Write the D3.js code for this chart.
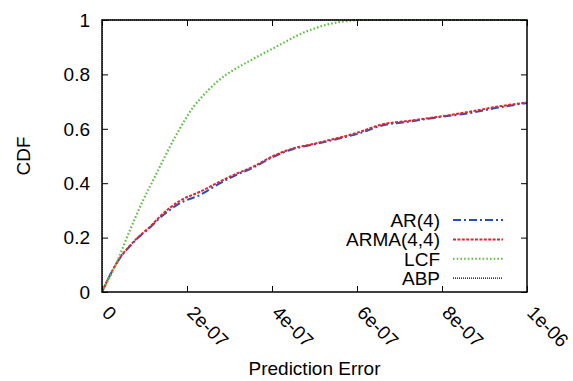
<!DOCTYPE html>
<html><head><meta charset="utf-8">
<script src="https://cdn.jsdelivr.net/npm/d3@7"></script>
<style>body{margin:0;background:#fff;}svg{display:block;font-family:"Liberation Sans",Arial,sans-serif;}</style>
</head><body><svg id="c" width="573" height="381"></svg>
<script>
// x values of the series are in units of 1e-7
const xTicks = [0, 2e-7, 4e-7, 6e-7, 8e-7, 1e-6];
const xTickLabels = ["0", "2e-07", "4e-07", "6e-07", "8e-07", "1e-06"];
const yTicks = [0, 0.2, 0.4, 0.6, 0.8, 1];
const yTickLabels = ["0", "0.2", "0.4", "0.6", "0.8", "1"];
const seriesNames = ["AR(4)", "ARMA(4,4)", "LCF", "ABP"];

const lcfX = [0, 0.35, 0.66, 0.97, 1.2, 1.36, 1.52, 1.72, 1.84, 2.0, 2.15, 2.31, 2.5, 2.7, 2.93, 3.2, 3.48, 3.75, 4.03, 4.35, 4.66, 5.0, 5.29, 5.6, 5.84, 6.07, 7, 8, 9, 10];
const lcfY = [0, 0.11, 0.228, 0.338, 0.41, 0.46, 0.51, 0.57, 0.603, 0.645, 0.68, 0.71, 0.742, 0.772, 0.8, 0.826, 0.85, 0.873, 0.896, 0.923, 0.948, 0.969, 0.983, 0.993, 0.998, 1, 1, 1, 1, 1];

const armaX = [0, 0.2, 0.42, 0.66, 0.89, 1.13, 1.36, 1.6, 1.84, 2.31, 2.7, 3.09, 3.56, 4.03, 4.5, 5.0, 5.36, 5.7, 6.07, 6.54, 7.25, 7.95, 8.66, 9.29, 10];
const armaY = [0, 0.066, 0.126, 0.171, 0.207, 0.24, 0.277, 0.31, 0.336, 0.369, 0.40, 0.43, 0.461, 0.5, 0.528, 0.545, 0.559, 0.572, 0.589, 0.614, 0.63, 0.645, 0.663, 0.681, 0.697];

const arX = [0, 0.2, 0.42, 0.66, 0.89, 1.13, 1.36, 1.6, 1.84, 2.31, 2.7, 3.09, 3.56, 4.03, 4.5, 5.0, 5.36, 5.7, 6.07, 6.54, 7.25, 7.95, 8.66, 9.29, 10];
const arY = [0, 0.065, 0.124, 0.169, 0.205, 0.237, 0.272, 0.302, 0.327, 0.357, 0.393, 0.425, 0.458, 0.497, 0.526, 0.543, 0.556, 0.569, 0.584, 0.61, 0.627, 0.643, 0.658, 0.677, 0.695];

const abpX = [0, 0, 10];
const abpY = [0, 1, 1];

const svg = d3.select("#c");
const L = 102, R = 527, T = 20, B = 292;
const x = d3.scaleLinear().domain([0, 1e-6]).range([L, R]);
const y = d3.scaleLinear().domain([0, 1]).range([B, T]);
const fs = "19px";

svg.append("clipPath").attr("id", "pc").append("rect")
  .attr("x", L).attr("y", T - 2).attr("width", R - L).attr("height", B - T + 4);

// axes with inward ticks (mirrored)
const axB = svg.append("g").attr("transform", `translate(0,${B})`)
  .call(d3.axisBottom(x).tickValues(xTicks).tickSize(-6).tickFormat(""));
const axT = svg.append("g").attr("transform", `translate(0,${T})`)
  .call(d3.axisTop(x).tickValues(xTicks).tickSize(-6).tickFormat(""));
const axL = svg.append("g").attr("transform", `translate(${L},0)`)
  .call(d3.axisLeft(y).tickValues(yTicks).tickSize(-6).tickFormat(""));
const axR = svg.append("g").attr("transform", `translate(${R},0)`)
  .call(d3.axisRight(y).tickValues(yTicks).tickSize(-6).tickFormat(""));
[axB, axT, axL, axR].forEach(a => { a.select(".domain").remove(); a.selectAll("line").attr("stroke", "#000").attr("stroke-width", 1); });

// y tick labels
svg.append("g").selectAll("text").data(yTicks).join("text")
  .attr("x", L - 12).attr("y", d => y(d)).attr("dy", "0.36em")
  .attr("text-anchor", "end").attr("font-size", fs).attr("fill", "#000")
  .text((d, i) => yTickLabels[i]);

// x tick labels rotated
svg.append("g").selectAll("text").data(xTicks).join("text")
  .attr("transform", d => `translate(${x(d) - 1},314) rotate(45)`)
  .attr("text-anchor", "start").attr("font-size", fs).attr("fill", "#000")
  .text((d, i) => xTickLabels[i]);

// axis titles
svg.append("text").attr("x", (L + R) / 2).attr("y", 375).attr("text-anchor", "middle")
  .attr("font-size", fs).text("Prediction Error");
svg.append("text").attr("transform", `translate(30,${(T + B) / 2}) rotate(-90)`)
  .attr("text-anchor", "middle").attr("font-size", fs).text("CDF");

const line = d3.line().x(d => x(d[0] * 1e-7)).y(d => y(d[1])).curve(d3.curveMonotoneX);
const lineLin = d3.line().x(d => x(d[0] * 1e-7)).y(d => y(d[1]));

const styles = [
  { name: seriesNames[0], xs: arX, ys: arY, color: "#2450b8", dash: "8,3,2,3", w: 2 },
  { name: seriesNames[1], xs: armaX, ys: armaY, color: "#e8222e", dash: "3,1.4", w: 2 },
  { name: seriesNames[2], xs: lcfX, ys: lcfY, color: "#5cbf3e", dash: "1.6,2.1", w: 2.2 },
  { name: seriesNames[3], xs: abpX, ys: abpY, color: "#000", dash: "1,1", w: 1.2 }
];

const plot = svg.append("g").attr("clip-path", "url(#pc)");
styles.forEach((s, i) => {
  const pts = s.xs.map((v, j) => [v, s.ys[j]]);
  plot.append("path").attr("d", (i === 3 ? lineLin : line)(pts))
    .attr("fill", "none").attr("stroke", s.color).attr("stroke-width", s.w)
    .attr("stroke-dasharray", s.dash);
});

// frame
svg.append("rect").attr("x", L).attr("y", T).attr("width", R - L).attr("height", B - T)
  .attr("fill", "none").attr("stroke", "#000").attr("stroke-width", 1.5);

// legend
const lg = svg.append("g");
styles.forEach((s, i) => {
  const yy = 220 + i * 19.4;
  lg.append("text").attr("x", 440).attr("y", yy).attr("dy", "0.36em").attr("text-anchor", "end")
    .attr("font-size", fs).text(s.name);
  lg.append("line").attr("x1", 453).attr("x2", 503).attr("y1", yy).attr("y2", yy)
    .attr("stroke", s.color).attr("stroke-width", i === 3 ? 1.2 : 2).attr("stroke-dasharray", s.dash);
});
</script></body></html>
